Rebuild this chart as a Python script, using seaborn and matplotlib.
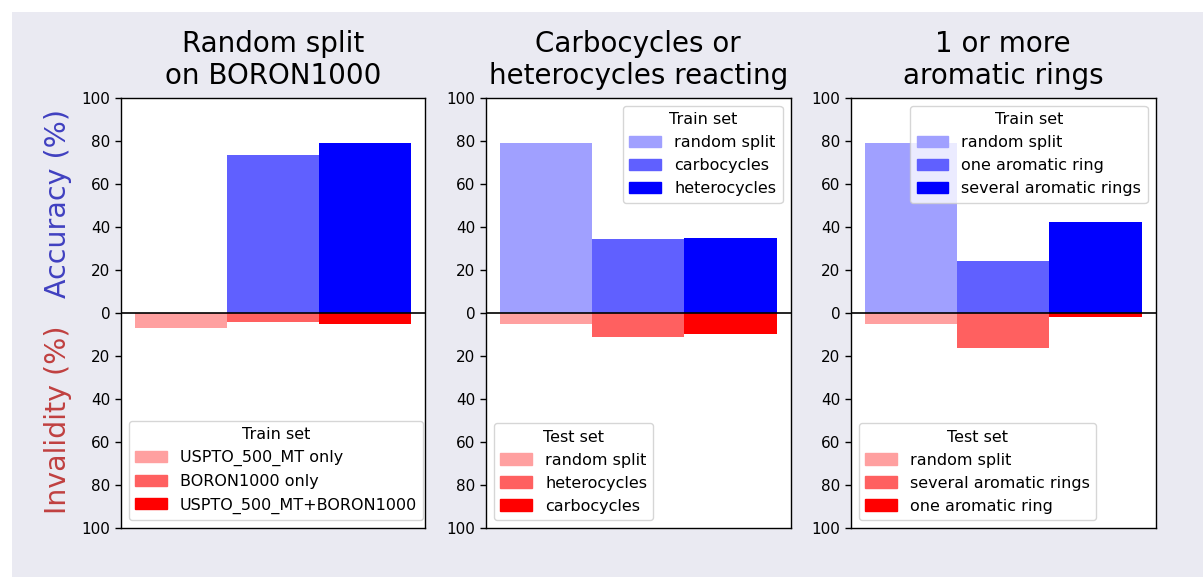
import matplotlib
matplotlib.use("Agg")
import matplotlib.pyplot as plt
from matplotlib.patches import Rectangle, Patch
import seaborn as sns
import numpy as np
import pandas as pd

# ---- data ----
titles = ["Random split\non BORON1000",
          "Carbocycles or\nheterocycles reacting",
          "1 or more\naromatic rings"]
bars = ["b1", "b2", "b3"]
acc_p1 = [0, 73.5, 79.0]
inv_p1 = [7.0, 4.0, 5.0]
acc_p2 = [79.0, 34.5, 35.0]
inv_p2 = [5.3, 11.0, 9.6]
acc_p3 = [79.0, 24.2, 42.3]
inv_p3 = [5.1, 16.4, 1.9]
train_labels_p1 = ["USPTO_500_MT only", "BORON1000 only", "USPTO_500_MT+BORON1000"]
train_labels_p2 = ["random split", "carbocycles", "heterocycles"]
test_labels_p2 = ["random split", "heterocycles", "carbocycles"]
train_labels_p3 = ["random split", "one aromatic ring", "several aromatic rings"]
test_labels_p3 = ["random split", "several aromatic rings", "one aromatic ring"]
yticks = [-100, -80, -60, -40, -20, 0, 20, 40, 60, 80, 100]

blues = ["#a0a0ff", "#6060ff", "#0000ff"]
reds = ["#ffa0a0", "#ff6060", "#ff0000"]

sns.set_style("ticks")
plt.rcParams["font.family"] = ["DejaVu Sans"]
plt.rcParams["axes.edgecolor"] = "black"
plt.rcParams["xtick.color"] = "black"
plt.rcParams["ytick.color"] = "black"
plt.rcParams["text.color"] = "black"
plt.rcParams["axes.labelcolor"] = "black"

fig = plt.figure(figsize=(12.03, 5.77), dpi=100, facecolor="white")
fig.patches.append(Rectangle((12 / 1203, 0), 1, (577 - 12) / 577,
                             transform=fig.transFigure, facecolor="#eaeaf2",
                             edgecolor="none", zorder=-10))

lefts = [120.7 / 1203, 486 / 1203, 851 / 1203]
w = 304.5 / 1203
b = 49 / 577
h = 430 / 577

panels = [
    (acc_p1, inv_p1, None, None, train_labels_p1, "Train set"),
    (acc_p2, inv_p2, train_labels_p2, "Train set", test_labels_p2, "Test set"),
    (acc_p3, inv_p3, train_labels_p3, "Train set", test_labels_p3, "Test set"),
]

for i, (acc, inv, top_labels, top_title, bot_labels, bot_title) in enumerate(panels):
    ax = fig.add_axes([lefts[i], b, w, h])
    ax.set_facecolor("white")
    df_acc = pd.DataFrame({"bar": bars, "val": acc})
    df_inv = pd.DataFrame({"bar": bars, "val": [-v for v in inv]})
    sns.barplot(data=df_acc, x="bar", y="val", hue="bar", palette=blues,
                width=1, legend=False, ax=ax, saturation=1, linewidth=0)
    sns.barplot(data=df_inv, x="bar", y="val", hue="bar", palette=reds,
                width=1, legend=False, ax=ax, saturation=1, linewidth=0)
    ax.axhline(0, color="black", lw=1.2, zorder=5)
    ax.set_xlim(-0.65, 2.65)
    ax.set_ylim(-100, 100)
    ax.set_xticks([])
    ax.set_xlabel("")
    ax.set_ylabel("")
    ax.set_yticks(yticks)
    ax.set_yticklabels([str(abs(t)) for t in yticks], fontsize=11)
    ax.tick_params(axis="y", length=4, width=1)
    for s in ax.spines.values():
        s.set_visible(True)
        s.set_color("black")
        s.set_linewidth(1)
    ax.set_title(titles[i], fontsize=20, pad=10, color="black")

    if top_labels is not None:
        handles = [Patch(color=c, label=l) for c, l in zip(blues, top_labels)]
        leg = ax.legend(handles=handles, title=top_title, loc="upper right",
                        fontsize=11.5, title_fontsize=11.5)
        ax.add_artist(leg)
    handles = [Patch(color=c, label=l) for c, l in zip(reds, bot_labels)]
    ax.legend(handles=handles, title=bot_title, loc="lower left",
              fontsize=11.5, title_fontsize=11.5)

    if i == 0:
        ax.text(-0.205, 0.535, "Accuracy (%)", transform=ax.transAxes,
                rotation=90, ha="center", va="bottom", fontsize=20.5,
                color="#4040c0")
        ax.text(-0.205, 0.47, "Invalidity (%)", transform=ax.transAxes,
                rotation=90, ha="center", va="top", fontsize=20.5,
                color="#c04040")

fig.savefig("out.png", dpi=100)
